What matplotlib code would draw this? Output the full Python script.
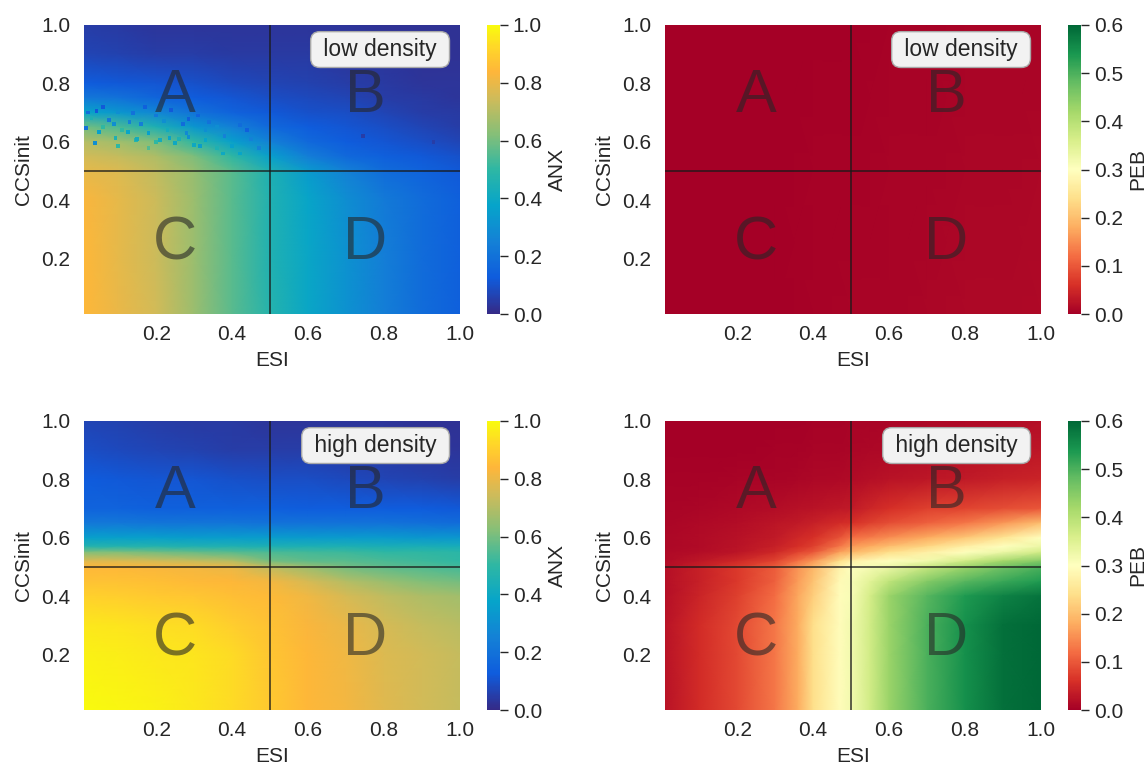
import matplotlib
matplotlib.use("Agg")
import matplotlib.pyplot as plt
import numpy as np
from matplotlib.colors import LinearSegmentedColormap

esi = [0.01, 0.1, 0.2, 0.3, 0.4, 0.5, 0.6, 0.7, 0.8, 0.9, 1.0]

ccs_anx_low = [1.0, 0.9, 0.8, 0.75, 0.7, 0.65, 0.6, 0.55, 0.5, 0.4, 0.2, 0.01]
anx_low = [
    [.05, .04, .03, .03, .03, .03, .03, .03, .02, .02, .02],
    [.07, .06, .05, .05, .04, .04, .04, .03, .03, .02, .02],
    [.13, .12, .11, .10, .08, .07, .06, .05, .04, .03, .03],
    [.22, .20, .16, .13, .11, .09, .08, .07, .05, .04, .03],
    [.38, .33, .27, .20, .15, .12, .10, .09, .07, .05, .04],
    [.60, .54, .45, .33, .25, .17, .13, .11, .09, .07, .05],
    [.70, .67, .61, .50, .36, .25, .17, .13, .11, .09, .07],
    [.75, .73, .69, .61, .50, .36, .24, .17, .14, .12, .10],
    [.79, .77, .72, .65, .56, .45, .34, .25, .18, .15, .12],
    [.83, .79, .74, .66, .56, .46, .38, .30, .23, .18, .14],
    [.84, .79, .74, .66, .56, .46, .39, .31, .24, .18, .14],
    [.84, .80, .75, .66, .56, .47, .39, .31, .24, .18, .14],
]

# noisy cells of the low density ANX panel
speckle_esi = [.04, .05, .015, .043, .14, .125, .146, .093, .10, .18, .21, .235, .285,
               .25, .315, .285, .34, .42, .375, .40, .33, .24, .13, .075, .744, .93,
               .02, .06, .10, .17, .20, .03, .09, .16, .22, .27, .31, .36, .44, .02,
               .06, .11, .18, .23, .28, .33, .38, .45, .15, .20, .26, .30, .36, .42, .47]
speckle_ccs = [.596, .634, .647, .705, .698, .634, .606, .613, .586, .58, .606, .613, .616,
               .596, .586, .678, .668, .658, .56, .586, .606, .709, .668, .675, .62, .60,
               .70, .72, .70, .72, .69, .68, .66, .66, .67, .66, .69, .65, .64, .66,
               .65, .64, .63, .64, .63, .64, .62, .61, .61, .60, .61, .59, .58, .56, .58]
speckle_anx = [.30, .36, .20, .12, .20, .38, .48, .45, .50, .55, .42, .38, .30,
               .40, .35, .14, .20, .18, .40, .36, .38, .12, .25, .22, .05, .05,
               .18, .12, .30, .14, .22, .45, .30, .24, .30, .18, .15, .30, .14, .55,
               .50, .50, .36, .42, .28, .30, .25, .25, .42, .50, .45, .40, .45, .38, .25]

ccs_anx_high = [1.0, 0.9, 0.8, 0.7, 0.65, 0.6, 0.57, 0.55, 0.52, 0.5, 0.45, 0.4, 0.3, 0.2, 0.01]
anx_high = [
    [.07, .06, .05, .04, .04, .03, .03, .03, .03, .02, .02],
    [.09, .08, .07, .06, .05, .05, .05, .04, .04, .03, .03],
    [.125, .12, .11, .11, .10, .09, .09, .08, .07, .06, .05],
    [.15, .15, .14, .14, .14, .14, .13, .13, .13, .125, .12],
    [.22, .22, .21, .21, .21, .20, .20, .20, .20, .19, .18],
    [.36, .36, .36, .35, .35, .35, .34, .34, .34, .33, .33],
    [.47, .47, .47, .46, .46, .45, .45, .45, .44, .44, .43],
    [.62, .62, .60, .58, .56, .54, .53, .52, .50, .50, .49],
    [.78, .77, .75, .73, .70, .60, .57, .56, .54, .52, .50],
    [.84, .84, .83, .82, .80, .72, .66, .60, .57, .55, .53],
    [.87, .87, .86, .85, .84, .82, .76, .70, .66, .62, .60],
    [.91, .90, .89, .88, .86, .85, .81, .76, .72, .69, .67],
    [.96, .95, .94, .93, .90, .87, .83, .80, .76, .73, .71],
    [.98, .97, .96, .95, .93, .88, .84, .81, .77, .75, .73],
    [1.0, .99, .98, .96, .93, .89, .84, .82, .78, .75, .73],
]

ccs_peb_low = [1.0, 0.5, 0.01]
peb_low = [
    [.001, .001, .001, .001, .001, .002, .003, .004, .005, .006, .006],
    [.001, .001, .001, .002, .003, .004, .006, .007, .008, .009, .010],
    [.001, .001, .001, .002, .003, .005, .007, .009, .010, .011, .012],
]

esi_peb_high = [0.01, 0.1, 0.2, 0.3, 0.36, 0.4, 0.47, 0.5, 0.55, 0.6, 0.7, 0.8, 0.9, 1.0]
ccs_peb_high = [1.0, 0.9, 0.8, 0.7, 0.65, 0.6, 0.57, 0.55, 0.52, 0.5, 0.45, 0.4, 0.3, 0.2, 0.01]
peb_high = [
    [.002, .002, .002, .002, .002, .003, .004, .005, .007, .008, .010, .012, .015, .020],
    [.002, .002, .002, .003, .004, .005, .007, .008, .010, .012, .015, .020, .025, .030],
    [.003, .004, .005, .006, .008, .010, .013, .015, .020, .025, .030, .035, .040, .045],
    [.006, .008, .012, .018, .022, .025, .032, .035, .048, .060, .075, .080, .090, .100],
    [.008, .012, .018, .026, .034, .040, .055, .060, .075, .090, .110, .130, .160, .200],
    [.010, .015, .022, .035, .050, .060, .095, .120, .135, .150, .180, .210, .250, .300],
    [.011, .016, .025, .042, .060, .075, .130, .160, .180, .200, .230, .270, .300, .330],
    [.012, .018, .028, .050, .080, .100, .170, .190, .215, .240, .270, .300, .330, .370],
    [.015, .030, .050, .080, .125, .160, .240, .270, .290, .300, .320, .370, .420, .450],
    [.020, .040, .070, .105, .155, .190, .275, .300, .315, .330, .380, .430, .470, .500],
    [.020, .040, .070, .110, .165, .205, .290, .310, .345, .390, .450, .490, .515, .535],
    [.020, .045, .075, .120, .175, .220, .295, .310, .365, .430, .490, .535, .565, .585],
    [.025, .055, .085, .130, .180, .240, .295, .320, .370, .430, .500, .550, .590, .600],
    [.025, .055, .085, .130, .180, .240, .295, .320, .370, .430, .500, .550, .590, .600],
    [.025, .055, .085, .130, .180, .240, .295, .320, .370, .430, .500, .550, .590, .600],
]

parula_stops = [0, .125, .25, .375, .5, .625, .75, .84, .92, 1]
parula_colors = ["#352a87", "#0f5cdd", "#1481d6", "#06a4ca", "#2eb7a4",
                 "#87bf77", "#d1bb59", "#feb63a", "#ffd52a", "#f9fb0e"]
parula = LinearSegmentedColormap.from_list("parula", list(zip(parula_stops, parula_colors)))

letters = ["A", "B", "C", "D"]
letter_x = [0.25, 0.75, 0.25, 0.75]
letter_y = [0.755, 0.755, 0.25, 0.25]

plt.rcParams["font.family"] = ["Liberation Sans", "DejaVu Sans"]
plt.rcParams["font.size"] = 15
plt.rcParams["text.color"] = "#262626"
plt.rcParams["axes.labelcolor"] = "#262626"
plt.rcParams["xtick.color"] = "#262626"
plt.rcParams["ytick.color"] = "#262626"

W, H = 1147, 765
fig = plt.figure(figsize=(W / 100, H / 100), dpi=100)


def panel(x0, y0, xs, ccs, values, cmap, vmax, bar_ticks, bar_label, density):
    ax = fig.add_axes([x0 / W, 1 - (y0 + 289) / H, 376 / W, 289 / H])
    mesh = ax.pcolormesh(xs, ccs, np.array(values), cmap=cmap, vmin=0, vmax=vmax,
                         shading="gouraud", rasterized=True)
    ax.set_xlim(0.01, 1)
    ax.set_ylim(0.01, 1)
    ax.set_xticks([0.2, 0.4, 0.6, 0.8, 1.0])
    ax.set_yticks([0.2, 0.4, 0.6, 0.8, 1.0])
    ax.tick_params(length=0)
    ax.tick_params(axis="x", pad=8)
    ax.tick_params(axis="y", pad=10)
    ax.set_xlabel("ESI", labelpad=5)
    ax.set_ylabel("CCSinit", labelpad=6)
    for spine in ax.spines.values():
        spine.set_visible(False)

    ax.axvline(0.5, color="#1a1a1a", lw=1.4, alpha=0.7)
    ax.axhline(0.5, color="#1a1a1a", lw=1.4, alpha=0.7)
    for s, lx, ly in zip(letters, letter_x, letter_y):
        ax.text(lx, ly, s, fontsize=44, color="#262626", alpha=0.6,
                ha="center", va="center")
    ax.text(0.955, 0.915, " " + density + " ", transform=ax.transAxes, fontsize=16.5,
            ha="right", va="center",
            bbox=dict(boxstyle="round,pad=0.28,rounding_size=0.4", fc="#f2f2f2", ec="#a8a8a8", lw=1))

    cax = fig.add_axes([(x0 + 403) / W, 1 - (y0 + 289) / H, 12.5 / W, 289 / H])
    cb = fig.colorbar(mesh, cax=cax)
    cb.outline.set_visible(False)
    cb.set_ticks(bar_ticks)
    cb.ax.tick_params(length=5.5, width=1, pad=4, color="#262626")
    cb.set_label(bar_label, labelpad=4)
    return ax


anx_ticks = [0.0, 0.2, 0.4, 0.6, 0.8, 1.0]
peb_ticks = [0.0, 0.1, 0.2, 0.3, 0.4, 0.5, 0.6]

ax_low = panel(84, 25, esi, ccs_anx_low, anx_low, parula, 1.0, anx_ticks, "ANX", "low density")
ax_low.scatter(speckle_esi, speckle_ccs, c=speckle_anx, cmap=parula, vmin=0, vmax=1,
               marker="s", s=7.5, linewidths=0)
panel(665, 25, esi, ccs_peb_low, peb_low, "RdYlGn", 0.6, peb_ticks, "PEB", "low density")
panel(84, 421, esi, ccs_anx_high, anx_high, parula, 1.0, anx_ticks, "ANX", "high density")
panel(665, 421, esi_peb_high, ccs_peb_high, peb_high, "RdYlGn", 0.6, peb_ticks, "PEB", "high density")

fig.savefig("out.png", dpi=100)
